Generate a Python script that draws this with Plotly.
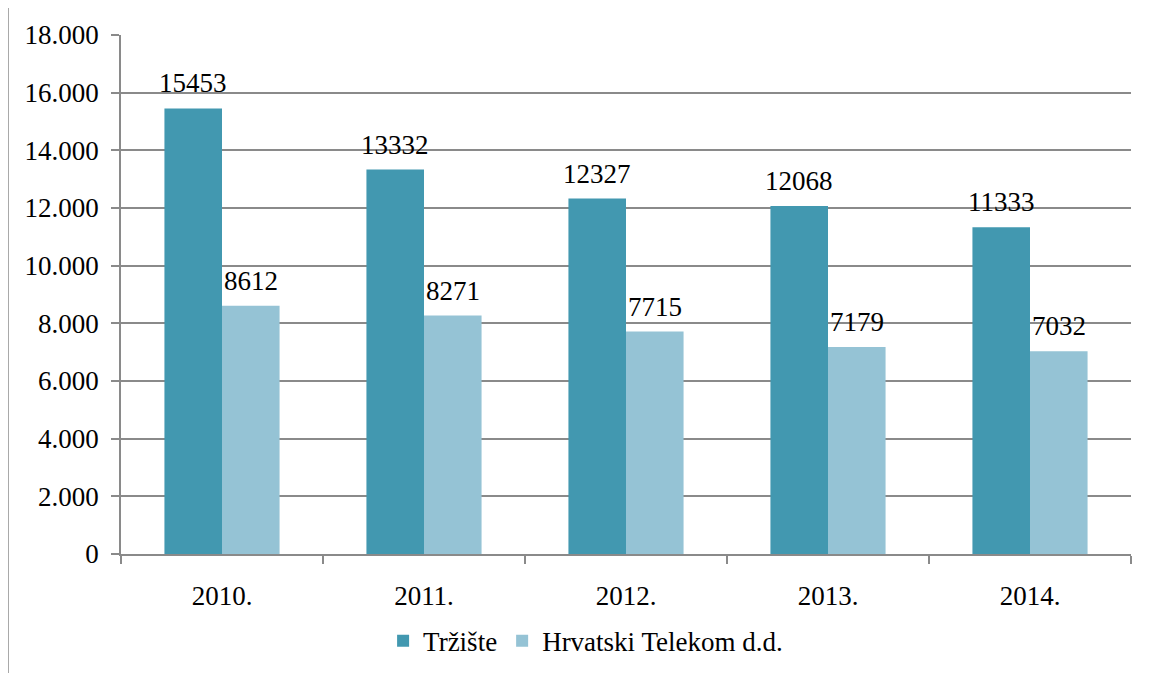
import plotly.graph_objects as go

categories = ["2010.", "2011.", "2012.", "2013.", "2014."]
trziste = [15453, 13332, 12327, 12068, 11333]
ht = [8612, 8271, 7715, 7179, 7032]
series_names = ["Tržište", "Hrvatski Telekom d.d."]
y_ticks = [0, 2000, 4000, 6000, 8000, 10000, 12000, 14000, 16000, 18000]

FONT = "Liberation Serif, Times New Roman, serif"
FS = 27
C1 = "#4298B0"
C2 = "#95C3D5"
GRID = "#8a8a8a"
BARGAP = 0.43

fig = go.Figure()
fig.add_trace(go.Bar(x=categories, y=trziste, name=series_names[0], marker=dict(color=C1, line=dict(width=0))))
fig.add_trace(go.Bar(x=categories, y=ht, name=series_names[1], marker=dict(color=C2, line=dict(width=0))))

# data labels (positioned by category index on the category axis)
half = (1 - BARGAP) / 4
for vals, off in ((trziste, -half), (ht, half)):
    for i, v in enumerate(vals):
        fig.add_annotation(x=i + off, y=v, text=str(v), showarrow=False,
                           yanchor="bottom", yshift=8, font=dict(family=FONT, size=FS, color="black"))

# outer frame
fig.add_shape(type="rect", xref="paper", yref="paper", x0=-0.1119, x1=1.2, y0=1.0559, y1=-0.4,
              line=dict(color="#8a8a8a", width=1.5), layer="below")

fig.update_layout(
    width=1144, height=665,
    margin=dict(l=113, r=21, t=27, b=119, autoexpand=False),
    paper_bgcolor="white", plot_bgcolor="white",
    separators=",.",
    barmode="group", bargap=BARGAP, bargroupgap=0,
    font=dict(family=FONT, size=FS, color="black"),
    showlegend=True,
    legend=dict(orientation="h", x=0.46, xanchor="center", y=-0.168, yanchor="middle",
                font=dict(family=FONT, size=FS), itemsizing="constant", traceorder="normal"),
    xaxis=dict(type="category", range=[-0.5, len(categories) - 0.5], showline=True, linecolor=GRID,
               linewidth=1.5, ticks="outside", tickson="boundaries", ticklen=8, tickcolor=GRID,
               tickwidth=1.5, showgrid=False, ticklabelstandoff=17, tickangle=0,
               tickfont=dict(family=FONT, size=FS)),
    yaxis=dict(range=[0, 18000], tickvals=y_ticks, tickformat=",d", showline=True, linecolor=GRID,
               linewidth=1.5, ticks="outside", ticklen=8, tickcolor=GRID, tickwidth=1.5,
               showgrid=True, gridcolor=GRID, gridwidth=1.5, zeroline=False, ticklabelstandoff=7,
               tickfont=dict(family=FONT, size=FS)),
)

fig.write_html("out.html")
